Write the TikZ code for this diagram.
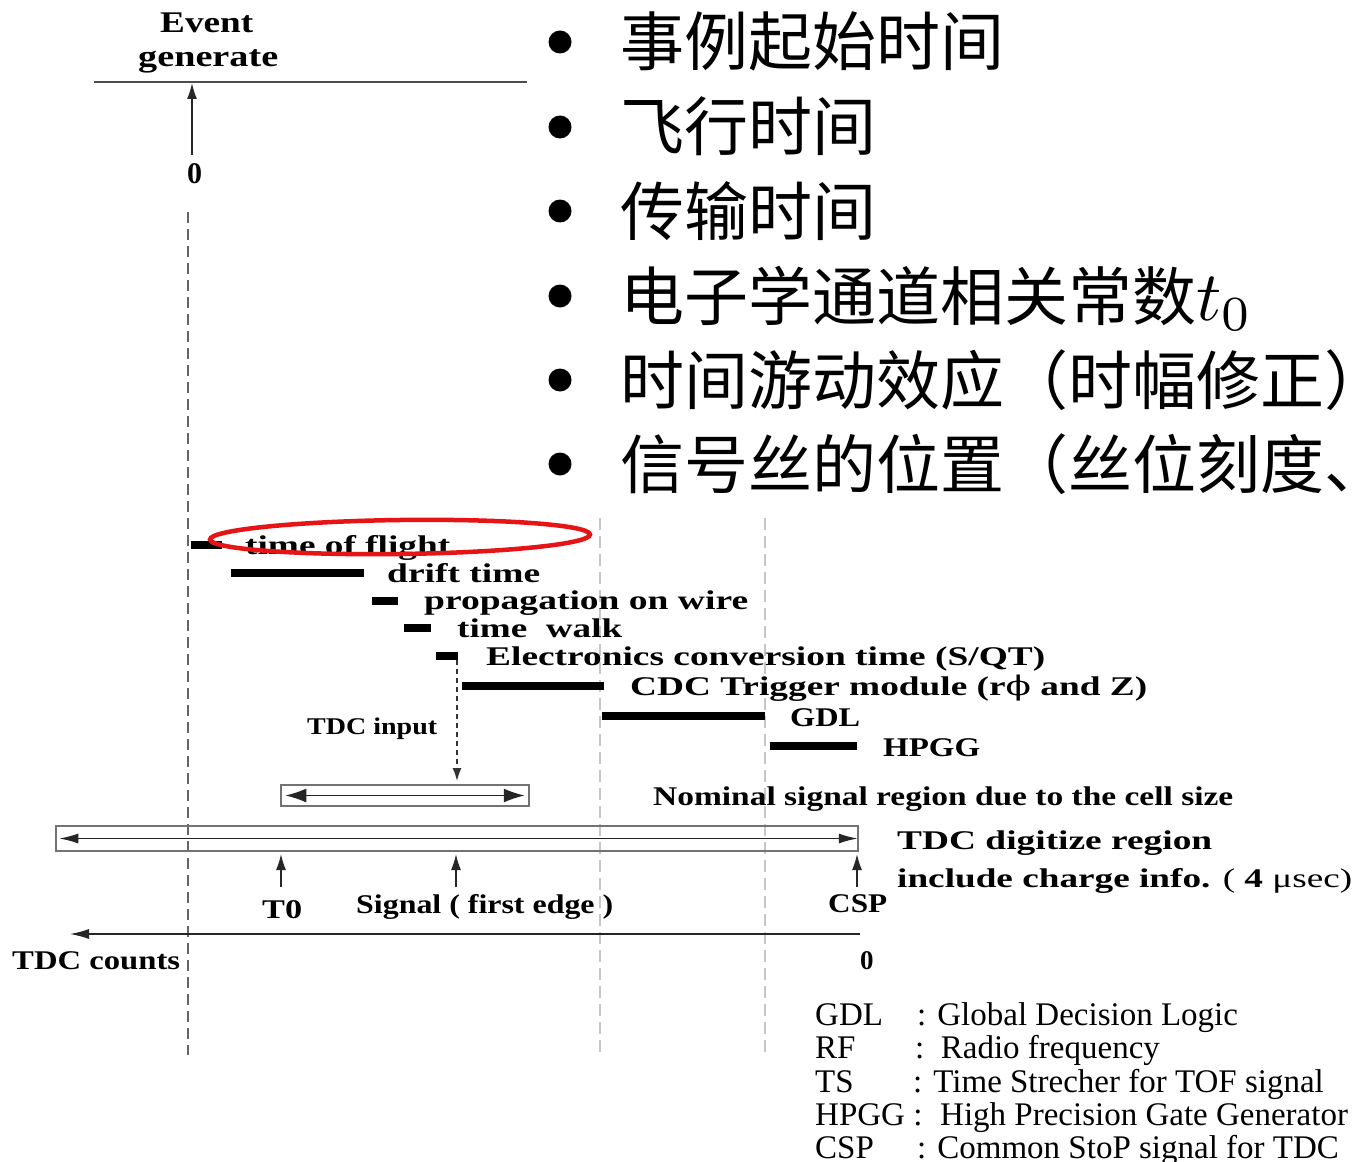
\documentclass[tikz,border=0pt]{standalone}
\usepackage{fontspec}
\setmainfont{Liberation Serif}
\newfontfamily\cjk{Noto Sans CJK SC}
\newfontfamily\dvs{DejaVu Serif}
\usepackage{graphicx}
\usetikzlibrary{arrows.meta}
\newcommand\fw[2]{\resizebox{#1pt}{\height}{#2}}
\definecolor{ovalred}{RGB}{230,20,20}
\begin{document}
\begin{tikzpicture}[x=1pt,y=-1pt,
  lbl/.style={anchor=base west, inner sep=0pt, font=\fontsize{27}{30}\selectfont\bfseries},
  big/.style={anchor=base west, inner sep=0pt, font=\fontsize{30}{33}\selectfont\bfseries},
  leg/.style={anchor=base west, inner sep=0pt, font=\fontsize{33}{36}\selectfont},
  cn/.style={anchor=base west, inner sep=0pt, font=\fontsize{64}{70}\selectfont\cjk},
  bar/.style={line width=8pt, black},
  arr/.style={-{Latex[length=16pt,width=10pt]}, line width=1.5pt, black!85},
  dbl/.style={{Latex[length=21pt,width=14pt]}-{Latex[length=21pt,width=14pt]}, line width=1.6pt, black!85},
  dbls/.style={{Latex[length=19pt,width=10pt]}-{Latex[length=19pt,width=10pt]}, line width=1.4pt, black!85},
  frame/.style={draw=black!55, line width=1.5pt},
  mainv/.style={draw=black!60, line width=1.5pt, dash pattern=on 11pt off 6pt},
  lightv/.style={draw=black!22, line width=1.3pt, dash pattern=on 12pt off 6pt},
  bullet/.style={circle, fill=black, inner sep=0pt, minimum size=23pt}
]
\useasboundingbox (0,0) rectangle (1356,1161);
\clip (0,0) rectangle (1356,1161);
\fill[white] (0,0) rectangle (1356,1161);

% ---- Chinese bullet list ----
\foreach \yy/\nm in {42/b1,127/b2,211/b3,296/b4,380/b5,464/b6}
  \node[bullet] (\nm) at (560,\yy) {};
\node[cn] (c1) at (620,66) {事例起始时间};
\node[cn] (c2) at (620,151) {飞行时间};
\node[cn] (c3) at (620,235) {传输时间};
\node[cn] (c4) at (620,320) {电子学通道相关常数{\fontsize{10}{12}\selectfont\scalebox{7}{$t_0$}}};
\node[cn] (c5) at (620,404) {时间游动效应（时幅修正）};
\node[cn] (c6) at (620,488) {信号丝的位置（丝位刻度、};

% ---- Event generate ----
\node[big] (event) at (160,33) {\fw{93}{Event}};
\node[big] (gen) at (138,67) {\fw{140}{generate}};
\coordinate (L0) at (94,82);
\coordinate (L1) at (527,82);
\draw[black!70, line width=1.8pt] (L0) -- (L1);
\node[big] (zero1) at (187,183) {0};
\coordinate (evBase) at (192,155);
\coordinate (evTip) at (192,83);
\draw[arr] (evBase) -- (evTip);

% ---- vertical guide lines ----
\coordinate (v0t) at (188,212); \coordinate (v0b) at (188,1055);
\coordinate (v1t) at (600,518); \coordinate (v1b) at (600,1055);
\coordinate (v2t) at (765,518); \coordinate (v2b) at (765,1055);
\draw[lightv] (v1t) -- (v1b);
\draw[lightv] (v2t) -- (v2b);
\draw[mainv] (v0t) -- (v0b);

% ---- timing bars ----
\draw[bar] (191,545) -- (222,545);
\draw[bar] (231,573) -- (364,573);
\draw[bar] (372,601) -- (398,601);
\draw[bar] (404,628) -- (431,628);
\draw[bar] (436,656) -- (458,656);
\draw[bar] (462,686) -- (604,686);
\draw[bar] (602,716) -- (765,716);
\draw[bar] (770,746) -- (857,746);

\node[lbl] (tof) at (245,554) {\fw{205}{time of flight}};
\node[lbl] (drift) at (387,582) {\fw{153}{drift time}};
\node[lbl] (prop) at (424,609) {\fw{324}{propagation on wire}};
\node[lbl] (walk) at (457,637) {\fw{165}{time\ \ walk}};
\node[lbl] (elec) at (486,665) {\fw{559}{Electronics conversion time (S/QT)}};
\node[lbl] (cdc) at (630,695) {\fw{517}{CDC Trigger module (r{\dvs\mdseries ϕ} and Z)}};
\node[lbl] (gdl) at (790,726) {\fw{70}{GDL}};
\node[lbl] (hpgg) at (883,756) {\fw{97}{HPGG}};

% ---- TDC input ----
\node[lbl, font=\fontsize{24}{26}\selectfont\bfseries] (tdcin) at (307,734) {\fw{130}{TDC input}};
\coordinate (inTop) at (457,660);
\coordinate (inTip) at (457,781);
\draw[-{Latex[length=13pt,width=9pt]}, line width=1.4pt, black!80, dash pattern=on 5pt off 4pt] (inTop) -- (inTip);

% ---- nominal signal region ----
\node[frame, minimum width=248pt, minimum height=21pt, inner sep=0pt] (nombox) at (405,795.5) {};
\draw[dbl] ([xshift=5pt]nombox.west) -- ([xshift=-5pt]nombox.east);
\node[lbl] (nominal) at (653,805) {\fw{580}{Nominal signal region due to the cell size}};

% ---- TDC digitize region ----
\node[frame, minimum width=802pt, minimum height=25pt, inner sep=0pt] (digbox) at (457,838.5) {};
\draw[dbls] ([xshift=4pt]digbox.west) -- ([xshift=-1pt]digbox.east);
\node[lbl] (digit) at (897,849) {\fw{315}{TDC digitize region}};
\node[lbl] (charge) at (897,887) {\fw{455}{include charge info. {\mdseries (} 4 {\mdseries μsec)}}};

% ---- markers ----
\node[lbl] (t0) at (262,918) {\fw{40}{T0}};
\node[lbl] (sig) at (356,913) {\fw{257}{Signal ( first edge )}};
\node[lbl] (csp) at (828,912) {\fw{59}{CSP}};
\coordinate (a1b) at (281,887); \coordinate (a1t) at (281,854);
\coordinate (a2b) at (456,887); \coordinate (a2t) at (456,854);
\coordinate (a3b) at (857,887); \coordinate (a3t) at (857,854);
\draw[arr] (a1b) -- (a1t);
\draw[arr] (a2b) -- (a2t);
\draw[arr] (a3b) -- (a3t);

% ---- TDC counts axis ----
\coordinate (cR) at (860,934);
\coordinate (cL) at (70,934);
\draw[arr, line width=1.3pt, -{Latex[length=19pt,width=10pt]}] (cR) -- (cL);
\node[lbl] (tdccnt) at (12,969) {\fw{168}{TDC counts}};
\node[lbl] (zero2) at (860,969) {0};

% ---- red oval ----
\draw[ovalred, line width=4.5pt, rotate around={0.75:(400,537)}] (400,537) ellipse [x radius=190pt, y radius=17pt];

% ---- legend ----
\node[leg] (lg1) at (815,1025) {GDL};
\node[leg] (lg1d) at (917,1025) {: Global Decision Logic};
\node[leg] (lg2) at (815,1058) {RF};
\node[leg] (lg2d) at (915,1058) {:\ \ Radio frequency};
\node[leg] (lg3) at (815,1092) {TS};
\node[leg] (lg3d) at (913,1092) {: Time Strecher for TOF signal};
\node[leg] (lg4) at (815,1125) {HPGG :};
\node[leg] (lg4d) at (940,1125) {High Precision Gate Generator};
\node[leg] (lg5) at (815,1158) {CSP};
\node[leg] (lg5d) at (917,1158) {: Common StoP signal for TDC};
\end{tikzpicture}
\end{document}
